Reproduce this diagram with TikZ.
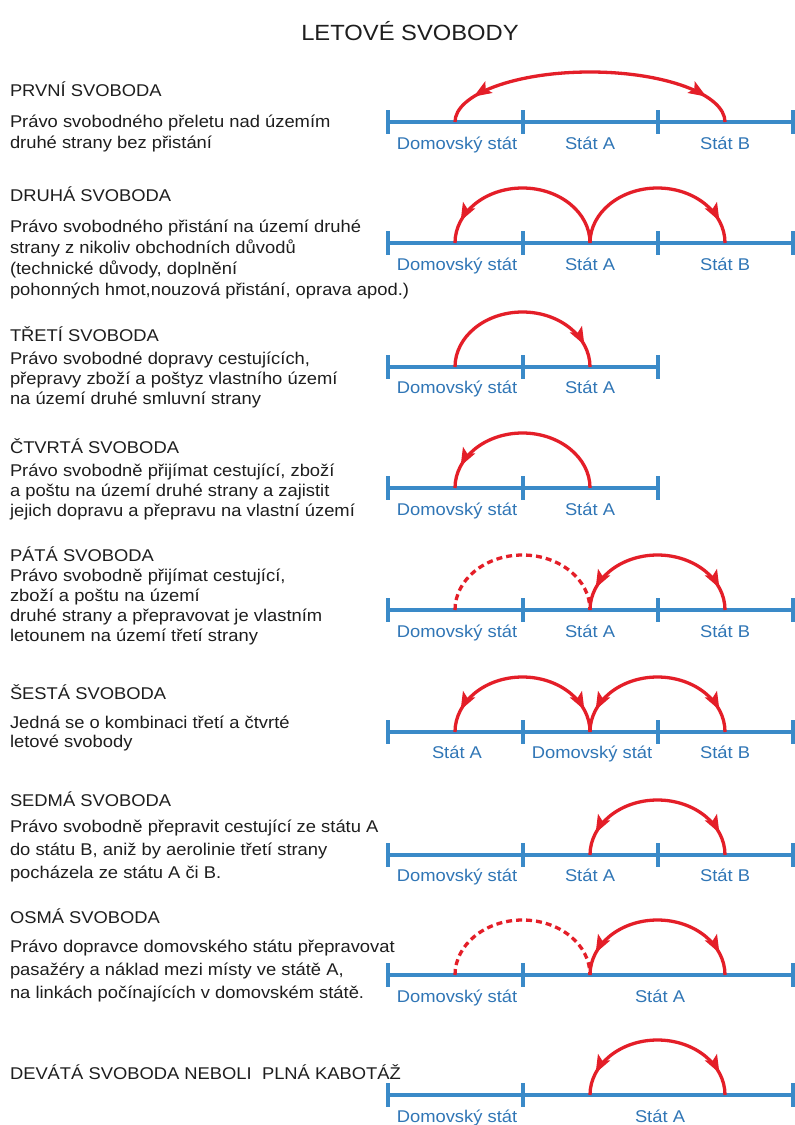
\documentclass[tikz,border=0pt]{standalone}
\usepackage{fontspec}
\setmainfont{Liberation Sans}[FakeStretch=1.08]
\usetikzlibrary{decorations.markings}
\definecolor{lineblue}{RGB}{58,138,200}
\definecolor{lblblue}{RGB}{48,118,182}
\definecolor{arcred}{RGB}{228,30,40}
\definecolor{txtgray}{RGB}{30,30,30}
\tikzset{
  every node/.style={inner sep=0pt, outer sep=0pt},
  txt/.style={font=\fontsize{17}{20}\selectfont, text=txtgray, anchor=base west},
  lbl/.style={font=\fontsize{17}{20}\selectfont, text=lblblue, anchor=base},
  axisline/.style={draw=lineblue, line width=4pt},
  tickline/.style={draw=lineblue, line width=3.5pt},
  flight/.style={draw=arcred, line width=3.3pt},
  hop/.style={x radius=67.5, y radius=55},
  longhop/.style={x radius=135, y radius=50},
  hopdashed/.style={flight, dash pattern=on 6pt off 4pt},
  onehead/.style={postaction={decorate, decoration={markings,
      mark=at position -#1 with {\fill[arcred] (0pt,0pt) -- (-18pt,7pt) -- (-14pt,0pt) -- (-18pt,-7pt) -- cycle;}}}},
  onehead/.default=23pt,
  twoheads/.style={postaction={decorate, decoration={markings,
      mark=at position #1 with {\fill[arcred] (0pt,0pt) -- (18pt,7pt) -- (14pt,0pt) -- (18pt,-7pt) -- cycle;},
      mark=at position -#1 with {\fill[arcred] (0pt,0pt) -- (-18pt,7pt) -- (-14pt,0pt) -- (-18pt,-7pt) -- cycle;}}}},
  twoheads/.default=23pt
}
% row points: #1 row number, #2 y (pixels from top)
\newcommand\rowpts[2]{%
  \coordinate (p#1) at (455,-#2);
  \coordinate (q#1) at (590,-#2);
  \coordinate (r#1) at (725,-#2);}
\newcommand\ticksat[2]{% #1 list of x, #2 y
  \foreach \tx in {#1} \draw[tickline] (\tx,-#2+12) -- (\tx,-#2-12);}
\begin{document}
\begin{tikzpicture}[x=1pt,y=1pt]
\useasboundingbox (0,0) rectangle (795,-1125);
\fill[white] (0,0) rectangle (795,-1125);

\node[font=\fontsize{22}{26}\selectfont, text=txtgray] (title) at (410,-31) {LETOVÉ SVOBODY};

% ---------- Row 1
\node[txt] (h1) at (10,-96) {PRVNÍ SVOBODA};
\node[txt] (t1a) at (10,-127) {Právo svobodného přeletu nad územím};
\node[txt] (t1b) at (10,-148) {druhé strany bez přistání};
\rowpts{1}{122}
\draw[axisline] (388,-122) -- (793,-122);
\ticksat{388,523,658,793}{122}
\node[lbl] (l1a) at (457,-149) {Domovský stát};
\node[lbl] (l1b) at (590,-149) {Stát A};
\node[lbl] (l1c) at (725,-149) {Stát B};
\draw[flight, longhop, twoheads=33pt] (p1) arc[start angle=180, end angle=0];

% ---------- Row 2
\node[txt] (h2) at (10,-201) {DRUHÁ SVOBODA};
\node[txt] (t2a) at (10,-232) {Právo svobodného přistání na území druhé};
\node[txt] (t2b) at (10,-253) {strany z nikoliv obchodních důvodů};
\node[txt] (t2c) at (10,-274) {(technické důvody, doplnění};
\node[txt] (t2d) at (10,-295) {pohonných hmot,nouzová přistání, oprava apod.)};
\rowpts{2}{243}
\draw[axisline] (388,-243) -- (793,-243);
\ticksat{388,523,658,793}{243}
\node[lbl] (l2a) at (457,-270) {Domovský stát};
\node[lbl] (l2b) at (590,-270) {Stát A};
\node[lbl] (l2c) at (725,-270) {Stát B};
\draw[flight, hop, onehead] (q2) arc[start angle=0, end angle=180];
\draw[flight, hop, onehead] (q2) arc[start angle=180, end angle=0];

% ---------- Row 3
\node[txt] (h3) at (10,-341) {TŘETÍ SVOBODA};
\node[txt] (t3a) at (10,-364) {Právo svobodné dopravy cestujících,};
\node[txt] (t3b) at (10,-384) {přepravy zboží a poštyz vlastního území};
\node[txt] (t3c) at (10,-404) {na území druhé smluvní strany};
\rowpts{3}{367}
\draw[axisline] (388,-367) -- (658,-367);
\ticksat{388,523,658}{367}
\node[lbl] (l3a) at (457,-393) {Domovský stát};
\node[lbl] (l3b) at (590,-393) {Stát A};
\draw[flight, hop, onehead] (p3) arc[start angle=180, end angle=0];

% ---------- Row 4
\node[txt] (h4) at (10,-453) {ČTVRTÁ SVOBODA};
\node[txt] (t4a) at (10,-476) {Právo svobodně přijímat cestující, zboží};
\node[txt] (t4b) at (10,-496) {a poštu na území druhé strany a zajistit};
\node[txt] (t4c) at (10,-516) {jejich dopravu a přepravu na vlastní území};
\rowpts{4}{488}
\draw[axisline] (388,-488) -- (658,-488);
\ticksat{388,523,658}{488}
\node[lbl] (l4a) at (457,-515) {Domovský stát};
\node[lbl] (l4b) at (590,-515) {Stát A};
\draw[flight, hop, onehead] (q4) arc[start angle=0, end angle=180];

% ---------- Row 5
\node[txt] (h5) at (10,-561) {PÁTÁ SVOBODA};
\node[txt] (t5a) at (10,-581) {Právo svobodně přijímat cestující,};
\node[txt] (t5b) at (10,-601) {zboží a poštu na území};
\node[txt] (t5c) at (10,-621) {druhé strany a přepravovat je vlastním};
\node[txt] (t5d) at (10,-641) {letounem na území třetí strany};
\rowpts{5}{610}
\draw[axisline] (388,-610) -- (793,-610);
\ticksat{388,523,658,793}{610}
\node[lbl] (l5a) at (457,-637) {Domovský stát};
\node[lbl] (l5b) at (590,-637) {Stát A};
\node[lbl] (l5c) at (725,-637) {Stát B};
\draw[hopdashed, hop] (p5) arc[start angle=180, end angle=0];
\draw[flight, hop, twoheads] (q5) arc[start angle=180, end angle=0];

% ---------- Row 6
\node[txt] (h6) at (10,-699) {ŠESTÁ SVOBODA};
\node[txt] (t6a) at (10,-728) {Jedná se o kombinaci třetí a čtvrté};
\node[txt] (t6b) at (10,-747) {letové svobody};
\rowpts{6}{732}
\draw[axisline] (388,-732) -- (793,-732);
\ticksat{388,523,658,793}{732}
\node[lbl] (l6a) at (457,-758) {Stát A};
\node[lbl] (l6b) at (592,-758) {Domovský stát};
\node[lbl] (l6c) at (725,-758) {Stát B};
\draw[flight, hop, twoheads] (p6) arc[start angle=180, end angle=0];
\draw[flight, hop, twoheads] (q6) arc[start angle=180, end angle=0];

% ---------- Row 7
\node[txt] (h7) at (10,-806) {SEDMÁ SVOBODA};
\node[txt] (t7a) at (10,-832) {Právo svobodně přepravit cestující ze státu A};
\node[txt] (t7b) at (10,-855) {do státu B, aniž by aerolinie třetí strany};
\node[txt] (t7c) at (10,-878) {pocházela ze státu A či B.};
\rowpts{7}{855}
\draw[axisline] (388,-855) -- (793,-855);
\ticksat{388,523,658,793}{855}
\node[lbl] (l7a) at (457,-881) {Domovský stát};
\node[lbl] (l7b) at (590,-881) {Stát A};
\node[lbl] (l7c) at (725,-881) {Stát B};
\draw[flight, hop, twoheads] (q7) arc[start angle=180, end angle=0];

% ---------- Row 8
\node[txt] (h8) at (10,-923) {OSMÁ SVOBODA};
\node[txt] (t8a) at (10,-952) {Právo dopravce domovského státu přepravovat};
\node[txt] (t8b) at (10,-975) {pasažéry a náklad mezi místy ve státě A,};
\node[txt] (t8c) at (10,-998) {na linkách počínajících v domovském státě.};
\rowpts{8}{975}
\draw[axisline] (388,-975) -- (793,-975);
\ticksat{388,523,793}{975}
\node[lbl] (l8a) at (457,-1002) {Domovský stát};
\node[lbl] (l8b) at (660,-1002) {Stát A};
\draw[hopdashed, hop] (p8) arc[start angle=180, end angle=0];
\draw[flight, hop, twoheads] (q8) arc[start angle=180, end angle=0];

% ---------- Row 9
\node[txt] (h9) at (10,-1079) {DEVÁTÁ SVOBODA NEBOLI\ \ PLNÁ KABOTÁŽ};
\rowpts{9}{1095}
\draw[axisline] (388,-1095) -- (793,-1095);
\ticksat{388,523,793}{1095}
\node[lbl] (l9a) at (457,-1122) {Domovský stát};
\node[lbl] (l9b) at (660,-1122) {Stát A};
\draw[flight, hop, twoheads] (q9) arc[start angle=180, end angle=0];
\end{tikzpicture}
\end{document}
